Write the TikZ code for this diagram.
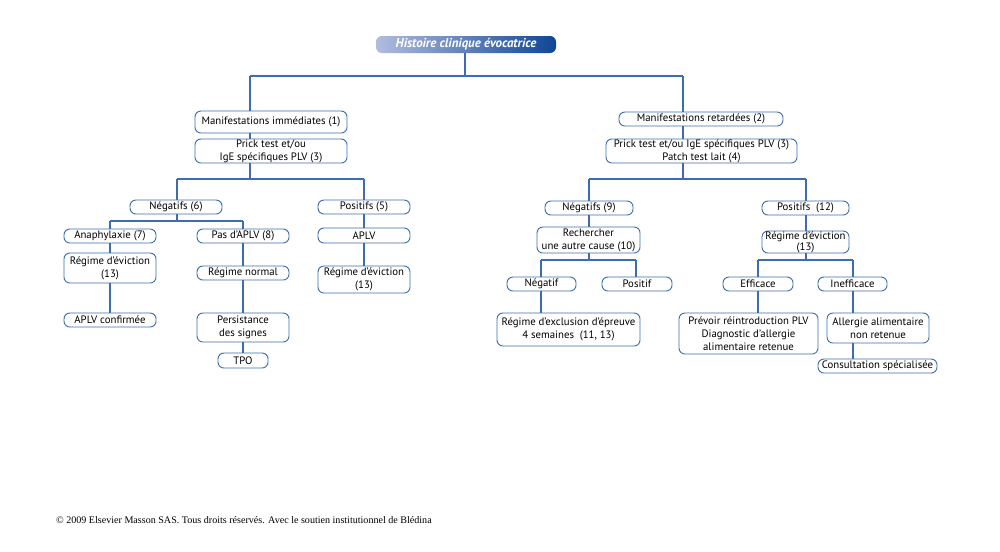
\documentclass[tikz,border=0pt]{standalone}
\usepackage{fontspec}
\setmainfont{PT Sans}
\newfontfamily\footfont{Liberation Serif}

\definecolor{lineblue}{RGB}{60,108,178}
\definecolor{titlelight}{RGB}{178,188,222}
\definecolor{titledark}{RGB}{15,70,150}

\begin{document}
\begin{tikzpicture}[x = 0.03cm, y = -0.03cm, font = \fontsize{9.2}{11}\selectfont]
    \tikzset{
      boxsize/.style 2 args = {minimum width = #1*0.03cm, minimum height = #2*0.03cm},
      box/.style = {draw = lineblue, line width = 0.8pt, rounded corners = 5pt, fill = white, align = center, inner sep = 0pt},
      title/.style = {rounded corners = 5pt, left color = titlelight, right color = titledark, text = white, inner sep = 0pt,
        font = \fontsize{11}{12}\selectfont\bfseries\itshape},
      link/.style = {draw = lineblue, line width = 1.1pt},
    }
    \useasboundingbox (0, 0) rectangle (1000, 551);

    \node [title, boxsize = {180}{17}] (hist) at (466, 44.5) {Histoire clinique évocatrice};

    % left branch
    \node [box, boxsize = {152}{22}] (imm) at (271, 122) {Manifestations immédiates (1)};
    \node [box, boxsize = {152}{24}] (prickL) at (271, 151) {Prick test et/ou\\IgE spécifiques PLV (3)};
    \node [box, boxsize = {92}{14}] (negL) at (176, 207) {Négatifs (6)};
    \node [box, boxsize = {92}{14}] (posL) at (364, 207) {Positifs (5)};
    \node [box, boxsize = {92}{14}] (ana) at (110, 236) {Anaphylaxie (7)};
    \node [box, boxsize = {92}{14}] (pas) at (243, 236) {Pas d'APLV (8)};
    \node [box, boxsize = {92}{30}] (evL) at (110, 268) {Régime d'éviction\\(13)};
    \node [box, boxsize = {92}{14}] (conf) at (110, 320) {APLV confirmée};
    \node [box, boxsize = {92}{14}] (normal) at (243, 273) {Régime normal};
    \node [box, boxsize = {92}{29}] (persist) at (243, 327.5) {Persistance\\des signes};
    \node [box, boxsize = {50}{15}] (tpo) at (243, 360.5) {TPO};
    \node [box, boxsize = {92}{15}] (aplv) at (364, 235.5) {APLV};
    \node [box, boxsize = {92}{27}] (evP) at (364, 279.5) {Régime d'éviction\\(13)};

    % right branch
    \node [box, boxsize = {164}{14}] (ret) at (701, 119) {Manifestations retardées (2)};
    \node [box, boxsize = {191}{24}] (prickR) at (701.5, 151) {Prick test et/ou IgE spécifiques PLV (3)\\Patch test lait (4)};
    \node [box, boxsize = {88}{14}] (negR) at (589, 208) {Négatifs (9)};
    \node [box, boxsize = {87}{14}] (posR) at (805.5, 208) {Positifs~~(12)};
    \node [box, boxsize = {103}{26}] (rech) at (588.5, 240) {Rechercher\\une autre cause (10)};
    \node [box, boxsize = {87}{22}, font = \fontsize{9.2}{8.5}\selectfont] (evR) at (805.5, 242) {Régime d'éviction\\(13)};
    \node [box, boxsize = {69}{14}] (negatif) at (541.5, 284) {Négatif};
    \node [box, boxsize = {70}{14}] (positif) at (637, 284) {Positif};
    \node [box, boxsize = {143}{33}] (excl) at (568.5, 329.5) {Régime d'exclusion d'épreuve\\4 semaines~~(11, 13)};
    \node [box, boxsize = {70}{14}] (eff) at (758, 284) {Efficace};
    \node [box, boxsize = {69}{14}] (ineff) at (852.5, 284) {Inefficace};
    \node [box, boxsize = {139}{41}] (prev) at (748.5, 333.5) {Prévoir réintroduction PLV\\Diagnostic d'allergie\\alimentaire retenue};
    \node [box, boxsize = {102}{30}] (allerg) at (878, 328) {Allergie alimentaire\\non retenue};
    \node [box, boxsize = {119}{14}] (consult) at (877.5, 366) {Consultation spécialisée};

    \node [anchor = west, font = \footfont\fontsize{8.6}{10}\selectfont] (copy) at (52, 520)
      {© 2009 Elsevier Masson SAS. Tous droits réservés. Avec le soutien institutionnel de Blédina};

    % junctions
    \coordinate (top) at (465, 76);
    \coordinate (immX) at (250, 76);
    \coordinate (retX) at (683, 76);
    \coordinate (negLX) at (177, 179);
    \coordinate (posLX) at (364, 179);
    \coordinate (anaX) at (110, 221);
    \coordinate (pasX) at (243, 221);
    \coordinate (negRX) at (589, 179);
    \coordinate (posRX) at (806, 179);
    \coordinate (negatifX) at (541, 260);
    \coordinate (positifX) at (636, 260);
    \coordinate (effX) at (758, 260);
    \coordinate (ineffX) at (853, 260);

    \draw [link] (hist.south -| top) -- (top);
    \draw [link] (immX) -- (retX);
    \draw [link] (immX) -- (imm.north -| immX);
    \draw [link] (retX) -- (ret.north -| retX);

    \draw [link] (imm.south -| immX) -- (prickL.north -| immX);
    \draw [link] (prickL.south -| immX) |- (negLX);
    \draw [link] (negLX) -- (posLX);
    \draw [link] (negLX) -- (negL.north -| negLX);
    \draw [link] (posLX) -- (posL.north -| posLX);
    \draw [link] (negL.south -| negLX) |- (anaX);
    \draw [link] (anaX) -- (pasX);
    \draw [link] (anaX) -- (ana.north -| anaX);
    \draw [link] (pasX) -- (pas.north -| pasX);
    \draw [link] (ana.south -| anaX) -- (evL.north -| anaX);
    \draw [link] (evL.south -| anaX) -- (conf.north -| anaX);
    \draw [link] (pas.south -| pasX) -- (normal.north -| pasX);
    \draw [link] (normal.south -| pasX) -- (persist.north -| pasX);
    \draw [link] (persist.south -| pasX) -- (tpo.north -| pasX);
    \draw [link] (posL.south -| posLX) -- (aplv.north -| posLX);
    \draw [link] (aplv.south -| posLX) -- (evP.north -| posLX);

    \draw [link] (ret.south -| retX) -- (prickR.north -| retX);
    \draw [link] (prickR.south -| retX) |- (negRX);
    \draw [link] (negRX) -- (posRX);
    \draw [link] (negRX) -- (negR.north -| negRX);
    \draw [link] (posRX) -- (posR.north -| posRX);
    \draw [link] (negR.south -| negRX) -- (rech.north -| negRX);
    \draw [link] (rech.south -| negRX) |- (negatifX);
    \draw [link] (negatifX) -- (positifX);
    \draw [link] (negatifX) -- (negatif.north -| negatifX);
    \draw [link] (positifX) -- (positif.north -| positifX);
    \draw [link] (negatif.south -| negatifX) -- (excl.north -| negatifX);
    \draw [link] (posR.south -| posRX) -- (evR.north -| posRX);
    \draw [link] (evR.south -| posRX) |- (effX);
    \draw [link] (effX) -- (ineffX);
    \draw [link] (effX) -- (eff.north -| effX);
    \draw [link] (ineffX) -- (ineff.north -| ineffX);
    \draw [link] (eff.south -| effX) -- (prev.north -| effX);
    \draw [link] (ineff.south -| ineffX) -- (allerg.north -| ineffX);
    \draw [link] (allerg.south -| ineffX) -- (consult.north -| ineffX);
\end{tikzpicture}
\end{document}
